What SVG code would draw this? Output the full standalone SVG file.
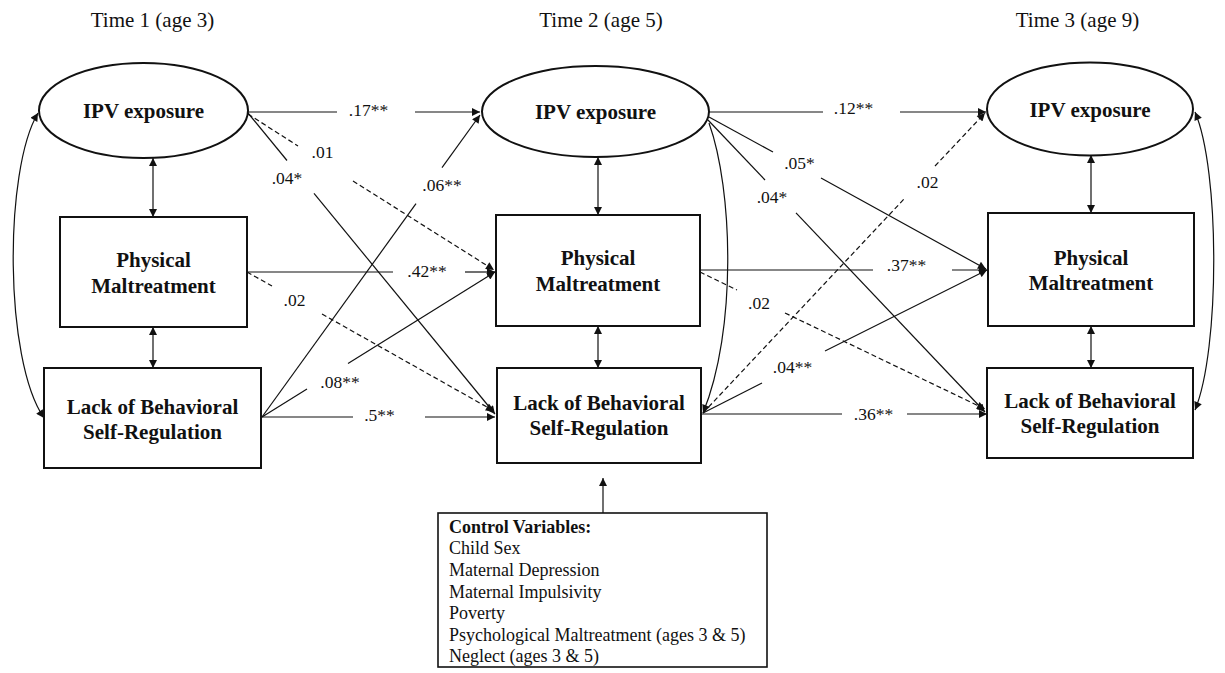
<svg xmlns="http://www.w3.org/2000/svg" width="1225" height="673" viewBox="0 0 1225 673">
<style>
.node{fill:#fff;stroke:#111;stroke-width:2}
.nt{font-family:"Liberation Serif","Times New Roman",serif;font-weight:bold;font-size:21px;fill:#111;text-anchor:middle}
.tt{font-family:"Liberation Serif","Times New Roman",serif;font-size:21px;fill:#111;text-anchor:middle}
.lb{font-family:"Liberation Serif","Times New Roman",serif;font-size:17.5px;fill:#111;text-anchor:middle}
.cv{font-family:"Liberation Serif","Times New Roman",serif;font-size:18px;fill:#111}
.c{fill:none;stroke:#111;stroke-width:1.2}
.d{stroke-dasharray:5 3}
.a{marker-end:url(#ah)}
.b{marker-start:url(#ah);marker-end:url(#ah)}
</style>
<defs>
<marker id="ah" viewBox="0 0 10 10" refX="10" refY="5" markerUnits="userSpaceOnUse" markerWidth="10" markerHeight="8" orient="auto-start-reverse">
<path d="M0 0 L10 5 L0 10 z" fill="#111"/>
</marker>
</defs>
<rect width="1225" height="673" fill="#fff"/>

<g id="titles">
<text class="tt" x="152.5" y="27">Time 1 (age 3)</text>
<text class="tt" x="601" y="27">Time 2 (age 5)</text>
<text class="tt" x="1077.5" y="27">Time 3 (age 9)</text>
</g>

<g id="connectors">
<!-- Time 1 to Time 2 -->
<path class="c" d="M248 112 H337"/><path class="c a" d="M415 112 H480"/>
<path class="c d" d="M248 114 L298 146"/><path class="c d a" d="M353 181 L494 270"/>
<path class="c" d="M248 113 L287 160.5"/><path class="c a" d="M314 193.4 L495 414"/>
<path class="c" d="M247 272 H393"/><path class="c a" d="M465 272 H495"/>
<path class="c d" d="M247 272 L272 286"/><path class="c d a" d="M322 314 L494 411"/>
<path class="c" d="M262 417 L416 203.7"/><path class="c a" d="M442 167.7 L480 115"/>
<path class="c" d="M262 417 L307 389"/><path class="c a" d="M348 363.5 L495 272"/>
<path class="c" d="M261 417 H353"/><path class="c a" d="M425 417 H495"/>
<!-- Time 2 to Time 3 -->
<path class="c" d="M709 112 H823"/><path class="c a" d="M900 112 H986"/>
<path class="c" d="M709 117 L773 152"/><path class="c a" d="M821 178 L986 269"/>
<path class="c" d="M708 120 L765 180"/><path class="c a" d="M796 212.8 L985 412"/>
<path class="c d" d="M703 413 L905 198"/><path class="c d a" d="M935 166 L985 113"/>
<path class="c" d="M700 270 H873"/><path class="c a" d="M952 270 H987"/>
<path class="c d" d="M700 272 L737 290"/><path class="c d a" d="M785 313 L985 409"/>
<path class="c" d="M703 413 L762 383"/><path class="c a" d="M825 351 L987 270"/>
<path class="c" d="M701 414 H842"/><path class="c a" d="M907 414 H987"/>
<path class="c a" d="M709 123 C733 190 737 330 703 413"/>
<!-- within time -->
<path class="c b" d="M153 158 V217"/>
<path class="c b" d="M153 327 V368"/>
<path class="c b" d="M598 157 V215"/>
<path class="c b" d="M598 326 V368"/>
<path class="c b" d="M1091 155 V213"/>
<path class="c b" d="M1091 326 V368"/>
<path class="c b" d="M38 113 C4 170 4 360 44 418"/>
<path class="c b" d="M1195 112 C1220 170 1220 350 1195 410"/>
<path class="c a" d="M603 513 V478"/>
</g>

<g id="labels">
<text class="lb" x="368.5" y="116">.17**</text>
<text class="lb" x="322.5" y="158">.01</text>
<text class="lb" x="287" y="184">.04*</text>
<text class="lb" x="442" y="191">.06**</text>
<text class="lb" x="427" y="277">.42**</text>
<text class="lb" x="294.5" y="306">.02</text>
<text class="lb" x="340" y="388">.08**</text>
<text class="lb" x="379.5" y="421">.5**</text>
<text class="lb" x="853.5" y="114">.12**</text>
<text class="lb" x="799.5" y="169">.05*</text>
<text class="lb" x="772" y="203">.04*</text>
<text class="lb" x="927.5" y="188">.02</text>
<text class="lb" x="906.5" y="271">.37**</text>
<text class="lb" x="759" y="309">.02</text>
<text class="lb" x="792.5" y="373">.04**</text>
<text class="lb" x="873.5" y="420">.36**</text>
</g>

<g id="t1-ipv">
<ellipse class="node" cx="143.5" cy="110.5" rx="104.5" ry="47.5"/>
<text class="nt" x="143.5" y="118">IPV exposure</text>
</g>
<g id="t1-pm">
<rect class="node" x="60" y="217" width="187" height="110"/>
<text class="nt" x="153.5" y="267">Physical</text>
<text class="nt" x="153.5" y="293">Maltreatment</text>
</g>
<g id="t1-lbsr">
<rect class="node" x="44" y="368" width="217" height="100"/>
<text class="nt" x="152.5" y="414">Lack of Behavioral</text>
<text class="nt" x="152.5" y="439">Self-Regulation</text>
</g>

<g id="t2-ipv">
<ellipse class="node" cx="595.5" cy="111.5" rx="113.5" ry="45.5"/>
<text class="nt" x="595.5" y="119">IPV exposure</text>
</g>
<g id="t2-pm">
<rect class="node" x="496" y="215" width="204" height="111"/>
<text class="nt" x="598" y="265">Physical</text>
<text class="nt" x="598" y="291">Maltreatment</text>
</g>
<g id="t2-lbsr">
<rect class="node" x="497" y="368" width="204" height="95"/>
<text class="nt" x="599" y="410">Lack of Behavioral</text>
<text class="nt" x="599" y="435">Self-Regulation</text>
</g>

<g id="t3-ipv">
<ellipse class="node" cx="1090" cy="109" rx="103" ry="46.5"/>
<text class="nt" x="1090" y="117">IPV exposure</text>
</g>
<g id="t3-pm">
<rect class="node" x="988" y="213" width="206" height="113"/>
<text class="nt" x="1091" y="265">Physical</text>
<text class="nt" x="1091" y="290">Maltreatment</text>
</g>
<g id="t3-lbsr">
<rect class="node" x="987" y="368" width="206" height="90"/>
<text class="nt" x="1090" y="408">Lack of Behavioral</text>
<text class="nt" x="1090" y="433">Self-Regulation</text>
</g>

<g id="controls">
<rect class="node" x="438" y="513" width="329" height="154" style="stroke-width:1.6"/>
<text class="cv" x="449" y="533" font-weight="bold">Control Variables:</text>
<text class="cv" x="449" y="554">Child Sex</text>
<text class="cv" x="449" y="576">Maternal Depression</text>
<text class="cv" x="449" y="598">Maternal Impulsivity</text>
<text class="cv" x="449" y="619">Poverty</text>
<text class="cv" x="449" y="641">Psychological Maltreatment (ages 3 &amp; 5)</text>
<text class="cv" x="449" y="662">Neglect (ages 3 &amp; 5)</text>
</g>
</svg>
